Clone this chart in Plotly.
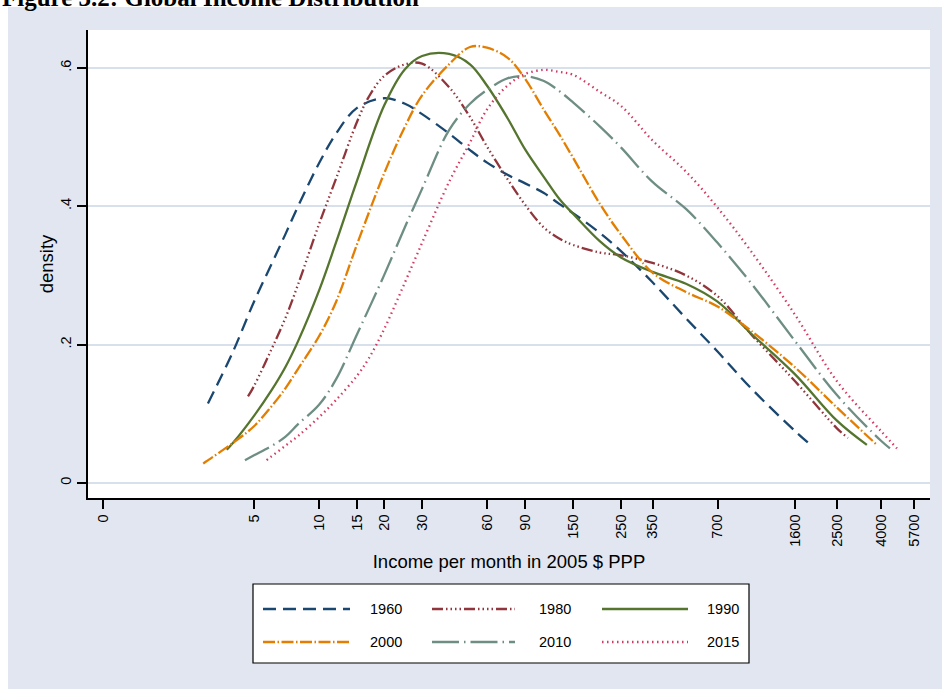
import plotly.graph_objects as go

# Kernel density of log monthly income (2005 $ PPP), by year
inc_1960 = [3.06, 4, 5, 6, 7, 8, 10, 12, 15, 20, 25, 30, 40, 50, 60, 75, 90, 110, 130, 150, 200, 250, 350, 500, 700, 1000, 1600, 1940]
dens_1960 = [0.115, 0.190, 0.262, 0.315, 0.360, 0.400, 0.462, 0.505, 0.542, 0.556, 0.548, 0.533, 0.505, 0.481, 0.463, 0.445, 0.433, 0.419, 0.403, 0.390, 0.361, 0.335, 0.290, 0.238, 0.190, 0.137, 0.075, 0.052]

inc_1980 = [4.69, 5, 6, 7, 8, 10, 12, 15, 17, 20, 25, 30, 40, 50, 60, 75, 90, 110, 130, 150, 200, 250, 350, 500, 700, 1000, 1600, 2500, 2810]
dens_1980 = [0.125, 0.140, 0.192, 0.239, 0.287, 0.374, 0.440, 0.522, 0.558, 0.588, 0.605, 0.606, 0.572, 0.529, 0.486, 0.438, 0.402, 0.369, 0.353, 0.344, 0.333, 0.329, 0.318, 0.300, 0.270, 0.215, 0.147, 0.079, 0.065]

inc_1990 = [3.74, 4, 5, 6, 7, 8, 10, 12, 15, 20, 25, 30, 40, 50, 60, 75, 90, 110, 130, 150, 200, 250, 350, 500, 700, 1000, 1600, 2500, 3440]
dens_1990 = [0.048, 0.058, 0.097, 0.133, 0.168, 0.205, 0.278, 0.348, 0.437, 0.545, 0.598, 0.617, 0.620, 0.605, 0.574, 0.526, 0.482, 0.442, 0.410, 0.389, 0.349, 0.326, 0.305, 0.288, 0.262, 0.216, 0.157, 0.090, 0.055]

inc_2000 = [2.91, 3, 4, 5, 6, 7, 8, 10, 12, 15, 20, 25, 30, 40, 50, 60, 75, 90, 110, 130, 150, 200, 250, 350, 500, 700, 1000, 1600, 2500, 3830]
dens_2000 = [0.028, 0.031, 0.058, 0.082, 0.110, 0.137, 0.165, 0.212, 0.262, 0.345, 0.447, 0.515, 0.560, 0.605, 0.630, 0.629, 0.614, 0.584, 0.539, 0.503, 0.470, 0.403, 0.359, 0.304, 0.276, 0.255, 0.220, 0.167, 0.109, 0.055]

inc_2010 = [4.54, 5, 6, 7, 8, 10, 12, 15, 20, 25, 30, 40, 50, 60, 75, 90, 110, 130, 150, 200, 250, 350, 500, 700, 1000, 1600, 2500, 4000, 4400]
dens_2010 = [0.033, 0.040, 0.053, 0.067, 0.085, 0.113, 0.150, 0.215, 0.300, 0.370, 0.425, 0.510, 0.548, 0.568, 0.585, 0.588, 0.581, 0.566, 0.550, 0.515, 0.485, 0.435, 0.396, 0.347, 0.289, 0.205, 0.127, 0.061, 0.050]

inc_2015 = [5.72, 6, 7, 8, 10, 12, 15, 17, 20, 25, 30, 40, 50, 60, 75, 90, 110, 130, 150, 200, 250, 350, 500, 700, 1000, 1600, 2500, 4000, 4740]
dens_2015 = [0.033, 0.038, 0.054, 0.068, 0.095, 0.120, 0.155, 0.180, 0.222, 0.290, 0.347, 0.435, 0.492, 0.540, 0.575, 0.591, 0.597, 0.594, 0.590, 0.565, 0.545, 0.495, 0.450, 0.398, 0.335, 0.243, 0.147, 0.075, 0.050]

x_tickvals = [1, 5, 10, 15, 20, 30, 60, 90, 150, 250, 350, 700, 1600, 2500, 4000, 5700]
x_ticktext = ["0", "5", "10", "15", "20", "30", "60", "90", "150", "250", "350", "700", "1600", "2500", "4000", "5700"]
y_tickvals = [0, 0.2, 0.4, 0.6]
y_ticktext = ["0", ".2", ".4", ".6"]

series = [
    ("1960", inc_1960, dens_1960, "#1A476F", "13px,7px"),
    ("1980", inc_1980, dens_1980, "#90353B", "11px,3px,1.5px,3px,1.5px,3px,1.5px,3px,1.5px,3px"),
    ("1990", inc_1990, dens_1990, "#55752F", "solid"),
    ("2000", inc_2000, dens_2000, "#E37E00", "12px,2.5px,1.5px,2.5px"),
    ("2010", inc_2010, dens_2010, "#6E8E84", "27px,5px,1.5px,5px"),
    ("2015", inc_2015, dens_2015, "#D23A60", "1.5px,3.5px"),
]

W, H = 942, 689
L, R, T, B = 88, 12, 30, 191
PW, PH = W - L - R, H - T - B


def px_x(p):
    return (p - L) / PW


def px_y(p):
    return (H - B - p) / PH


FONT = "Liberation Sans, Arial, Helvetica, sans-serif"
BG = "#E1E6F0"
GRID = "#D8E0EC"

fig = go.Figure()
for name, xs, ys, color, dash in series:
    fig.add_trace(go.Scatter(
        x=xs, y=ys, name=name, mode="lines",
        line=dict(color=color, width=2.3, dash=dash, shape="spline", smoothing=1.0),
        showlegend=False, hoverinfo="skip",
    ))

shapes = [
    # white strips around the shaded graph region
    dict(type="rect", xref="paper", yref="paper", x0=px_x(-10), x1=px_x(W + 10),
         y0=px_y(7), y1=px_y(-10), fillcolor="white", line=dict(width=0), layer="below"),
    dict(type="rect", xref="paper", yref="paper", x0=px_x(-10), x1=px_x(8),
         y0=px_y(H + 10), y1=px_y(-10), fillcolor="white", line=dict(width=0), layer="below"),
    # legend frame
    dict(type="rect", xref="paper", yref="paper", x0=px_x(253), x1=px_x(749),
         y0=px_y(663), y1=px_y(584), fillcolor="white", line=dict(color="black", width=1.2)),
]

annotations = [
    dict(text="<b>Figure 3.2: Global Income Distribution</b>", xref="paper", yref="paper",
         x=px_x(0), y=px_y(-3), xanchor="left", yanchor="middle", showarrow=False,
         font=dict(family="Liberation Serif, Times New Roman, serif", size=25, color="black")),
]

# legend: three columns, two rows
cols = [(263, 350, 368), (432, 515, 537), (602, 688, 705)]
rows = [609, 642]
for i, (name, xs, ys, color, dash) in enumerate(series):
    r, c = divmod(i, 3)
    x0, x1, xt = cols[c]
    yy = rows[r]
    shapes.append(dict(type="line", xref="paper", yref="paper", x0=px_x(x0), x1=px_x(x1),
                       y0=px_y(yy), y1=px_y(yy), line=dict(color=color, width=2.3, dash=dash)))
    annotations.append(dict(text=name, xref="paper", yref="paper", x=px_x(xt), y=px_y(yy),
                            xanchor="left", yanchor="middle", showarrow=False,
                            font=dict(family=FONT, size=14.5, color="black")))

fig.update_layout(
    width=W, height=H,
    margin=dict(l=L, r=R, t=T, b=B, pad=0),
    paper_bgcolor=BG, plot_bgcolor="white",
    font=dict(family=FONT, color="black"),
    shapes=shapes, annotations=annotations,
    xaxis=dict(
        type="log", range=[-0.0696, 3.8288],
        tickmode="array", tickvals=x_tickvals, ticktext=x_ticktext,
        tickangle=-90, tickfont=dict(size=14.5, color="black"),
        ticks="outside", ticklen=9, tickwidth=1.5, tickcolor="black",
        showline=True, linecolor="black", linewidth=1.5,
        showgrid=False, zeroline=False,
        title=dict(text="Income per month in 2005 $ PPP", font=dict(size=18.5), standoff=9),
    ),
    yaxis=dict(
        range=[-0.0217, 0.6546],
        tickmode="array", tickvals=y_tickvals, ticktext=y_ticktext,
        tickangle=-90, tickfont=dict(size=14.5, color="black"),
        ticks="outside", ticklen=9, tickwidth=1.5, tickcolor="black",
        showline=True, linecolor="black", linewidth=1.5,
        showgrid=True, gridcolor=GRID, gridwidth=1.6, zeroline=False,
        title=dict(text="density", font=dict(size=18.5), standoff=0),
    ),
)

fig.write_html("out.html")
